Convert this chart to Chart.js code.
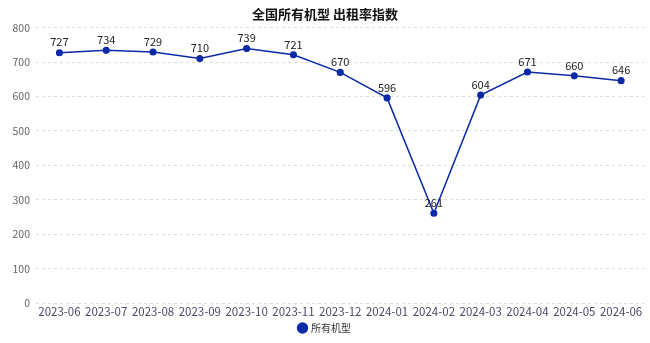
<!DOCTYPE html>
<html>
<head>
<meta charset="utf-8">
<script src="https://cdn.jsdelivr.net/npm/chart.js@4"></script>
<style>
  html, body { margin: 0; padding: 0; background: #fff; }
  #wrap { width: 650px; height: 343px; }
</style>
</head>
<body>
<div id="wrap"><canvas id="rentChart"></canvas></div>
<script>
// 出租率指数 monthly data
var months = ['2023-06', '2023-07', '2023-08', '2023-09', '2023-10', '2023-11', '2023-12',
              '2024-01', '2024-02', '2024-03', '2024-04', '2024-05', '2024-06'];
var allTypes = [727, 734, 729, 710, 739, 721, 670, 596, 261, 604, 671, 660, 646];
var yTicks = [0, 100, 200, 300, 400, 500, 600, 700, 800];

var fontFamily = '"Noto Sans CJK SC", "Noto Sans", sans-serif';

// value labels above each point
var pointLabels = {
    id: 'pointLabels',
    afterDatasetsDraw: function(chart) {
        var ctx = chart.ctx;
        var meta = chart.getDatasetMeta(0);
        ctx.save();
        ctx.font = '11px ' + fontFamily;
        ctx.fillStyle = '#222';
        ctx.textAlign = 'center';
        ctx.textBaseline = 'bottom';
        meta.data.forEach(function(pt, i) {
            ctx.fillText(chart.data.datasets[0].data[i], pt.x, pt.y - 5);
        });
        ctx.restore();
    }
};

var ctx = document.getElementById('rentChart').getContext('2d');
var rentChart = new Chart(ctx, {
    type: 'line',
    data: {
        labels: months,
        datasets: [{
            label: '所有机型',
            data: allTypes,
            borderColor: '#0a2aa8',
            backgroundColor: '#0a2aa8',
            borderWidth: 1.5,
            pointRadius: 2.8,
            pointBackgroundColor: '#0a2aa8',
            tension: 0,
            fill: false
        }]
    },
    options: {
        responsive: true,
        maintainAspectRatio: false,
        animation: false,
        layout: { padding: { left: 0, right: 0, top: 0, bottom: 0 } },
        plugins: {
            title: {
                display: true,
                text: '全国所有机型 出租率指数',
                color: '#111',
                font: { family: fontFamily, size: 13, weight: 'bold' },
                padding: { top: 6, bottom: 6 }
            },
            legend: {
                position: 'bottom',
                labels: {
                    usePointStyle: true,
                    pointStyle: 'circle',
                    boxWidth: 7,
                    boxHeight: 7,
                    color: '#333',
                    font: { family: fontFamily, size: 10 },
                    padding: 2
                }
            },
            tooltip: { enabled: false }
        },
        scales: {
            x: {
                offset: true,
                grid: { display: false, drawTicks: false },
                border: { display: false },
                ticks: {
                    color: '#4a4a68',
                    font: { family: fontFamily, size: 11.5 },
                    maxRotation: 0,
                    autoSkip: false,
                    padding: 2
                }
            },
            y: {
                min: 0,
                max: 800,
                afterBuildTicks: function(axis) {
                    axis.ticks = yTicks.map(function(v) { return { value: v }; });
                },
                afterFit: function(axis) { axis.width = 36; },
                grid: { color: '#dcdcdc', drawTicks: false },
                border: { display: false, dash: [3, 3] },
                ticks: {
                    color: '#666',
                    font: { family: fontFamily, size: 10.5 },
                    padding: 6
                }
            }
        }
    },
    plugins: [pointLabels]
});
</script>
</body>
</html>
